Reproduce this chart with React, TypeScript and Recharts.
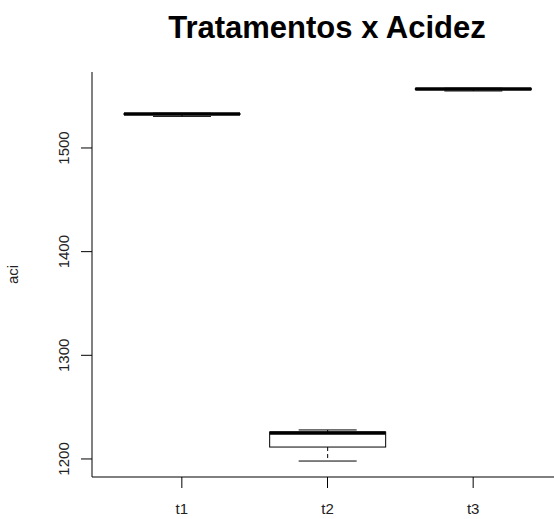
import { ComposedChart, Bar, XAxis, YAxis } from 'recharts';

// boxplot stats (aci per tratamento)
const treatments = ['t1', 't2', 't3'];
const mins = [1530.5, 1198, 1555];
const q1s = [1532.3, 1211.5, 1556.5];
const medians = [1532.8, 1225, 1557];
const q3s = [1533.2, 1226, 1557.3];
const maxs = [1533.5, 1228, 1557.6];
const yTicks = [1200, 1300, 1400, 1500];

const data = treatments.map((name, i) => ({
    name,
    min: mins[i],
    q1: q1s[i],
    median: medians[i],
    q3: q3s[i],
    max: maxs[i],
}));

const FONT = '"Liberation Sans", Arial, sans-serif';

const BoxShape = (props: any) => {
    const { x, y, width, height, payload } = props;
    const top = Math.min(y, y + height);
    const bottom = Math.max(y, y + height);
    const span = payload.max - payload.min;
    const toPx = (v: number) => bottom - ((v - payload.min) / span) * (bottom - top);
    const cx = x + width / 2;
    const cap = width / 4;
    const yq1 = toPx(payload.q1);
    const yq3 = toPx(payload.q3);
    const ymed = toPx(payload.median);
    return (
        <g>
            <line x1={cx} x2={cx} y1={top} y2={yq3} stroke="#000" strokeDasharray="4 3" />
            <line x1={cx} x2={cx} y1={yq1} y2={bottom} stroke="#000" strokeDasharray="4 3" />
            <line x1={cx - cap} x2={cx + cap} y1={top} y2={top} stroke="#000" />
            <line x1={cx - cap} x2={cx + cap} y1={bottom} y2={bottom} stroke="#000" />
            <rect x={x} y={yq3} width={width} height={Math.max(yq1 - yq3, 0.5)} fill="#fff" stroke="#000" />
            <line x1={x} x2={x + width} y1={ymed} y2={ymed} stroke="#000" strokeWidth={3.5} />
        </g>
    );
};

const YTick = (props: any) => {
    const { x, y, payload } = props;
    const tx = x - 11.5;
    return (
        <text x={tx} y={y} transform={`rotate(-90 ${tx} ${y})`} textAnchor="middle"
            fontSize={15} fill="#222" fontFamily={FONT}>
            {payload.value}
        </text>
    );
};

const XTick = (props: any) => {
    const { x, y, payload } = props;
    return (
        <text x={x} y={y + 26} textAnchor="middle" fontSize={15} fill="#222" fontFamily={FONT}>
            {payload.value}
        </text>
    );
};

const YLabel = (props: any) => {
    const { viewBox } = props;
    const tx = viewBox.x + 18;
    const ty = viewBox.y + viewBox.height / 2;
    return (
        <text x={tx} y={ty} transform={`rotate(-90 ${tx} ${ty})`} textAnchor="middle"
            fontSize={15} fill="#222" fontFamily={FONT}>
            aci
        </text>
    );
};

export default function App() {
    return (
        <div style={{ position: 'absolute', left: 0, top: 0, width: 554, height: 519, overflow: 'hidden', background: '#fff' }}>
            <div style={{
                position: 'absolute', left: 0, top: 12, width: 654, textAlign: 'center',
                fontFamily: FONT, fontSize: 31, lineHeight: '31px', fontWeight: 'bold', color: '#000',
            }}>
                Tratamentos x Acidez
            </div>
            <ComposedChart width={600} height={519} data={data}
                margin={{ top: 72, right: 37, bottom: 0, left: 0 }}>
                <XAxis dataKey="name" type="category" height={42} padding={{ left: 17, right: 17 }}
                    tickSize={11} tickMargin={0} tick={<XTick />}
                    axisLine={{ stroke: '#000' }} tickLine={{ stroke: '#000' }} />
                <XAxis xAxisId="top" dataKey="name" orientation="top" height={0}
                    tick={false} tickLine={false} axisLine={{ stroke: '#000' }} />
                <YAxis type="number" domain={[1182.6, 1573.3]} ticks={yTicks} width={92}
                    tickSize={11} tickMargin={0} tick={<YTick />} allowDataOverflow
                    axisLine={{ stroke: '#000' }} tickLine={{ stroke: '#000' }}
                    label={<YLabel />} />
                <Bar dataKey={(d: any) => [d.min, d.max]} barSize={116} shape={<BoxShape />}
                    isAnimationActive={false} />
            </ComposedChart>
        </div>
    );
}
